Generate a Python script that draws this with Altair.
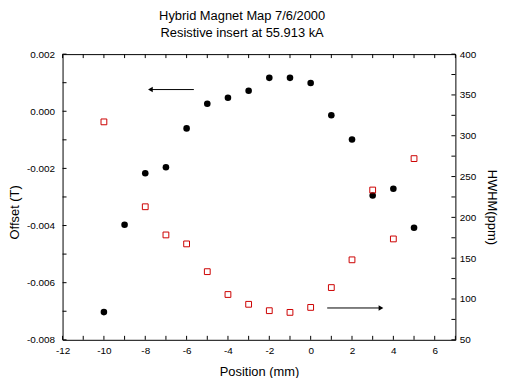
import altair as alt
import pandas as pd

FONT = "Liberation Sans"
W, H = 396, 288

# ---- data ----
pos_offset = [-10, -9, -8, -7, -6, -5, -4, -3, -2, -1, 0, 1, 2, 3, 4, 5]
offset = [-0.00703, -0.00397, -0.00217, -0.00196, -0.00060, 0.00026, 0.00047,
          0.00072, 0.00117, 0.00117, 0.00099, -0.00014, -0.00099, -0.00295,
          -0.00271, -0.00408]

pos_hwhm = [-10, -8, -7, -6, -5, -4, -3, -2, -1, 0, 1, 2, 3, 4, 5]
hwhm = [317, 213, 178.5, 167.5, 133.5, 105.5, 93.5, 85.7, 83.6, 89.7,
        114, 148, 233.5, 173.6, 272]

# axis labels and tick positions
x_labels = [-12, -10, -8, -6, -4, -2, 0, 2, 4, 6]
x_ticks = [-12, -11, -10, -9, -8, -7, -6, -5, -4, -3, -2, -1, 0, 1, 2, 3, 4, 5, 6, 7]
offset_labels = [-0.008, -0.006, -0.004, -0.002, 0.0, 0.002]
offset_ticks = [-0.008, -0.007, -0.006, -0.005, -0.004, -0.003, -0.002,
                -0.001, 0.0, 0.001, 0.002]
hwhm_labels = [50, 100, 150, 200, 250, 300, 350, 400]
hwhm_ticks = [50, 75, 100, 125, 150, 175, 200, 225, 250, 275, 300, 325,
              350, 375, 400]

# arrow annotations (data coordinates)
arrow_left_x = [-5.65, -7.75]
arrow_left_y = 0.00076
arrow_right_x = [0.8, 3.4]
arrow_right_y = 89

off_df = pd.DataFrame({"Position": pos_offset, "Offset": offset})
hw_df = pd.DataFrame({"Position": pos_hwhm, "HWHM": hwhm})

x_scale = alt.Scale(domain=[-12, 7], nice=False, zero=False)
yl_scale = alt.Scale(domain=[-0.008, 0.002], nice=False, zero=False)
yr_scale = alt.Scale(domain=[50, 400], nice=False, zero=False)

x_axis = alt.Axis(
    title="Position (mm)", values=x_labels, labelPadding=6, labelFlush=False,
    labelExpr="datum.value < 0 ? '-' + format(-datum.value, 'd') : format(datum.value, 'd')",
    titleY=32, titleBaseline="middle", labelOverlap=False)
yl_axis = alt.Axis(
    title="Offset (T)", values=offset_labels, labelPadding=8, labelFlush=False,
    labelExpr="datum.value < 0 ? '-' + format(-datum.value, '.3f') : format(datum.value, '.3f')",
    titleX=-48, titleY=159, titleBaseline="middle", titleAngle=-90, labelOverlap=False)
yr_axis = alt.Axis(
    title="HWHM(ppm)", orient="right", values=hwhm_labels, labelPadding=4,
    labelFlush=False, format="d", titleX=36, titleY=154, titleBaseline="middle",
    titleAngle=90, labelOverlap=False)


def X(field):
    return alt.X(field, scale=x_scale, axis=x_axis)


def YL(field):
    return alt.Y(field, scale=yl_scale, axis=yl_axis)


def YR(field):
    return alt.Y(field, scale=yr_scale, axis=yr_axis)


circles = alt.Chart(off_df).mark_circle(size=44, color="black", opacity=1).encode(
    x=X("Position:Q"), y=YL("Offset:Q"))

left_ticks = alt.Chart(pd.DataFrame({"t": offset_ticks})).mark_rule(color="black").encode(
    y=YL("t:Q"), x=alt.value(0), x2=alt.value(4))

top_ticks = alt.Chart(pd.DataFrame({"t": x_ticks})).mark_rule(color="black").encode(
    x=X("t:Q"), y=alt.value(0), y2=alt.value(4))

bottom_ticks = alt.Chart(pd.DataFrame({"t": x_ticks})).mark_rule(color="black").encode(
    x=X("t:Q"), y=alt.value(H), y2=alt.value(H - 4))

al_df = pd.DataFrame({"x1": [arrow_left_x[0]], "x2": [arrow_left_x[1]], "y": [arrow_left_y]})
arrow_left_line = alt.Chart(al_df).mark_rule(color="black", strokeWidth=1).encode(
    x=X("x1:Q"), x2="x2:Q", y=YL("y:Q"))
arrow_left_head = alt.Chart(al_df).mark_point(
    shape="triangle-left", filled=True, color="black", size=30, opacity=1).encode(
    x=X("x2:Q"), y=YL("y:Q"))

squares = alt.Chart(hw_df).mark_point(
    shape="square", filled=False, color="#cc0000", size=34, strokeWidth=1, opacity=1).encode(
    x=X("Position:Q"), y=YR("HWHM:Q"))

right_ticks = alt.Chart(pd.DataFrame({"t": hwhm_ticks})).mark_rule(color="black").encode(
    y=YR("t:Q"), x=alt.value(W), x2=alt.value(W - 4))

ar_df = pd.DataFrame({"x1": [arrow_right_x[0]], "x2": [arrow_right_x[1]], "y": [arrow_right_y]})
arrow_right_line = alt.Chart(ar_df).mark_rule(color="black", strokeWidth=1).encode(
    x=X("x1:Q"), x2="x2:Q", y=YR("y:Q"))
arrow_right_head = alt.Chart(ar_df).mark_point(
    shape="triangle-right", filled=True, color="black", size=30, opacity=1).encode(
    x=X("x2:Q"), y=YR("y:Q"))

left_group = alt.layer(circles, left_ticks, top_ticks, bottom_ticks,
                       arrow_left_line, arrow_left_head)
right_group = alt.layer(squares, right_ticks, arrow_right_line, arrow_right_head)

chart = alt.layer(left_group, right_group).resolve_scale(y="independent").properties(
    width=W, height=H,
    title=alt.TitleParams(
        text=["Hybrid Magnet Map 7/6/2000", "Resistive insert at 55.913 kA"],
        anchor="middle", frame="group", dx=-17, fontSize=13, fontWeight="normal",
        font=FONT, color="black", lineHeight=17, offset=9),
    padding={"left": 55, "top": 45, "right": 48, "bottom": 37},
    autosize="none",
    background="white",
).configure_view(
    stroke="black", strokeWidth=1
).configure_axis(
    labelFont=FONT, labelFontSize=10, labelColor="black",
    titleFont=FONT, titleFontSize=13, titleFontWeight="normal", titleColor="black",
    grid=False, domain=False, ticks=False,
)

chart.save("out.html", embed_options={"renderer": "svg", "actions": False})
